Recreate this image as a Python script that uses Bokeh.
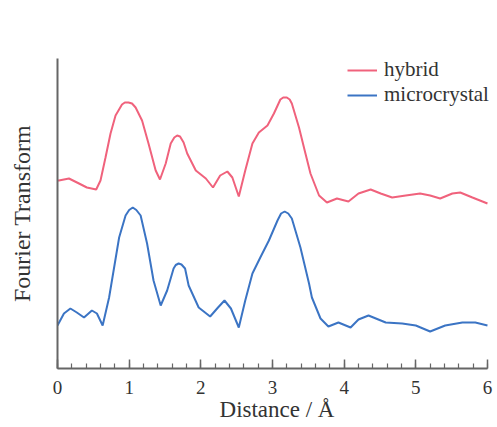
from bokeh.plotting import figure
from bokeh.models import Range1d, Legend, LegendItem, FixedTicker, SingleIntervalTicker
from bokeh.embed import file_html
from bokeh.resources import INLINE

# Distance (Å) and Fourier-transform magnitude (arbitrary units)
hybrid_x = [0.00, 0.02, 0.16, 0.30, 0.41, 0.54, 0.60, 0.67, 0.74, 0.81, 0.90, 0.94, 0.99, 1.04,
            1.09, 1.18, 1.27, 1.37, 1.43, 1.51, 1.58, 1.63, 1.67, 1.71, 1.76, 1.81, 1.93, 2.07,
            2.17, 2.27, 2.37, 2.44, 2.53, 2.62, 2.72, 2.81, 2.93, 3.02, 3.11, 3.15, 3.20, 3.24,
            3.27, 3.37, 3.46, 3.53, 3.65, 3.76, 3.90, 4.06, 4.20, 4.37, 4.51, 4.67, 4.86, 5.06,
            5.20, 5.34, 5.51, 5.62, 5.79, 6.00]
hybrid_y = [18.8, 18.8, 19.0, 18.5, 18.1, 17.9, 18.8, 21.1, 23.5, 25.3, 26.4, 26.6, 26.6, 26.5,
            26.1, 24.8, 22.5, 19.8, 18.9, 20.5, 22.5, 23.1, 23.3, 23.2, 22.6, 21.5, 19.8, 19.0,
            18.1, 19.3, 19.7, 19.1, 17.2, 19.8, 22.5, 23.6, 24.3, 25.5, 26.9, 27.1, 27.1, 26.9,
            26.5, 24.1, 21.5, 19.5, 17.3, 16.6, 17.0, 16.7, 17.5, 17.9, 17.5, 17.1, 17.3, 17.5,
            17.3, 17.0, 17.5, 17.6, 17.1, 16.5]

micro_x = [0.00, 0.09, 0.18, 0.27, 0.37, 0.48, 0.55, 0.63, 0.72, 0.79, 0.86, 0.95, 1.00, 1.05,
           1.10, 1.16, 1.25, 1.34, 1.44, 1.53, 1.62, 1.65, 1.69, 1.73, 1.78, 1.83, 1.97, 2.13,
           2.24, 2.33, 2.42, 2.53, 2.62, 2.72, 2.83, 2.95, 3.07, 3.12, 3.17, 3.22, 3.27, 3.39,
           3.51, 3.55, 3.67, 3.78, 3.92, 4.09, 4.20, 4.34, 4.58, 4.81, 5.00, 5.20, 5.41, 5.65,
           5.83, 6.00]
micro_y = [4.3, 5.5, 6.0, 5.6, 5.1, 5.8, 5.5, 4.3, 7.1, 10.1, 13.1, 15.3, 15.85, 16.1,
           15.85, 15.3, 12.5, 8.8, 6.3, 7.8, 10.0, 10.35, 10.5, 10.4, 10.0, 8.3, 6.1, 5.2,
           6.1, 6.8, 6.0, 4.1, 6.8, 9.5, 11.1, 12.8, 14.8, 15.5, 15.7, 15.5, 15.0, 12.1,
           8.5, 7.1, 5.0, 4.2, 4.6, 4.1, 4.9, 5.3, 4.6, 4.5, 4.3, 3.7, 4.3, 4.6,
           4.6, 4.3]

series_names = ["hybrid", "microcrystal"]
series_colors = ["#f0627c", "#3b74c4"]

SERIF = "Liberation Serif"
TNR = "Times New Roman"
TEXT = "#333333"
AXIS = "#666666"

p = figure(width=497, height=427, output_backend="svg", toolbar_location=None,
           x_range=Range1d(0, 6.126), y_range=Range1d(0, 31),
           min_border_left=57, min_border_top=58, min_border_right=1, min_border_bottom=59)
p.outline_line_color = None
p.grid.visible = False
p.background_fill_color = "white"

r1 = p.line(hybrid_x, hybrid_y, line_color=series_colors[0], line_width=2)
r2 = p.line(micro_x, micro_y, line_color=series_colors[1], line_width=2)

xa = p.xaxis[0]
xa.bounds = (0, 6)
xa.ticker = SingleIntervalTicker(interval=1, num_minor_ticks=5)
xa.axis_label = "Distance / Å"
xa.axis_label_text_font = SERIF
xa.axis_label_text_font_style = "normal"
xa.axis_label_text_font_size = "23px"
xa.axis_label_text_color = TEXT
xa.axis_label_standoff = 0
xa.major_label_text_font = TNR
xa.major_label_text_font_style = "normal"
xa.major_label_text_font_size = "19px"
xa.major_label_text_color = TEXT
xa.major_label_standoff = 12
xa.major_tick_in = 9
xa.major_tick_out = 0
xa.minor_tick_in = 5
xa.minor_tick_out = 0
xa.axis_line_color = AXIS
xa.axis_line_width = 2
xa.major_tick_line_color = AXIS
xa.minor_tick_line_color = AXIS
xa.major_tick_line_width = 1.5
xa.minor_tick_line_width = 1.2

ya = p.yaxis[0]
ya.ticker = FixedTicker(ticks=[])
ya.axis_label = "Fourier Transform"
ya.axis_label_text_font = SERIF
ya.axis_label_text_font_style = "normal"
ya.axis_label_text_font_size = "24px"
ya.axis_label_text_color = TEXT
ya.axis_label_standoff = 23
ya.major_tick_in = 0
ya.major_tick_out = 0
ya.minor_tick_in = 0
ya.minor_tick_out = 0
ya.axis_line_color = AXIS
ya.axis_line_width = 2

legend = Legend(items=[LegendItem(label=series_names[0], renderers=[r1]),
                       LegendItem(label=series_names[1], renderers=[r2])],
                location=(290, 261), margin=0, padding=0, spacing=0,
                glyph_width=30, glyph_height=20, label_height=20, label_standoff=7,
                label_text_font=TNR, label_text_font_style="normal",
                label_text_font_size="21px", label_text_color=TEXT,
                border_line_color=None, background_fill_alpha=0)
p.add_layout(legend, "center")

open("out.html", "w").write(file_html(p, INLINE))
